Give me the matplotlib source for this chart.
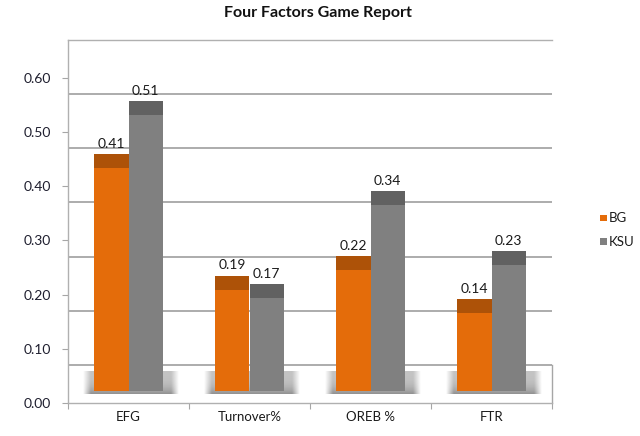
import matplotlib
matplotlib.use("Agg")
import matplotlib.pyplot as plt
import numpy as np
from matplotlib.patches import Rectangle

categories = ["EFG", "Turnover%", "OREB %", "FTR"]
teams = ["BG", "KSU"]
bg_values = [0.411, 0.187, 0.223, 0.144]
ksu_values = [0.509, 0.172, 0.343, 0.233]
ytick_vals = [0.0, 0.1, 0.2, 0.3, 0.4, 0.5, 0.6]

front_colors = {"BG": "#E46C0A", "KSU": "#808080"}
cap_colors = {"BG": "#AD5208", "KSU": "#616161"}

plt.rcParams['font.family'] = ['Lato', 'DejaVu Sans']

W, H = 640, 436
fig = plt.figure(figsize=(W / 100, H / 100), dpi=100)
L, R, T, B = 68, 552, 40, 403
ax = fig.add_axes([L / W, (H - B) / H, (R - L) / W, (B - T) / H])
px = 0.1 / 54.2  # data units per pixel vertically
ax.set_xlim(0, len(categories))
ax.set_ylim(0, (B - T) * px)

base = 12 * px      # front bottom of the bars
cap = 14 * px       # 3D top face depth
wall = 38 * px      # offset of back wall gridlines
bw = 0.285

# back wall gridlines
for v in ytick_vals[:-1]:
    ax.axhline(v + wall, color="#a6a6a6", lw=1.3, zorder=1)
# floor right edge
ax.plot([len(categories)] * 2, [0, wall], color="#a6a6a6", lw=1.0, zorder=1, clip_on=False)

# shadows on the floor
nx, ny = 240, 30
xs = np.linspace(-1, 1, nx)
prof_x = np.clip((1 - np.abs(xs)) / 0.16, 0, 1)
ys = np.linspace(0, 1, ny)  # top -> bottom
prof_y = 0.55 + 0.45 * ys ** 3
img = np.zeros((ny, nx, 4))
img[..., :3] = 0.5
img[..., 3] = np.outer(prof_y, prof_x) * 0.85
for i in range(len(categories)):
    c = i + 0.5
    ax.imshow(img, extent=[c - 0.38, c + 0.41, 9 * px, 31 * px],
              aspect='auto', zorder=2, interpolation='bilinear')

for i, cat in enumerate(categories):
    c = i + 0.5
    for team, vals, off in (("BG", bg_values, -bw / 2), ("KSU", ksu_values, bw / 2)):
        v = vals[i]
        x0 = c + off - bw / 2
        ax.add_patch(Rectangle((x0, base), bw, v, facecolor=front_colors[team],
                               edgecolor="none", zorder=3))
        ax.add_patch(Rectangle((x0, base + v), bw, cap, facecolor=cap_colors[team],
                               edgecolor="none", zorder=3))
        ax.annotate(f"{v:.2f}", (c + off, base + v + cap), xytext=(0, 3),
                    textcoords="offset points", ha="center", va="bottom",
                    fontsize=10, color="#1a1a1a", zorder=4)

ax.set_yticks(ytick_vals)
ax.set_yticklabels([f"{v:.2f}" for v in ytick_vals], fontsize=10, color="#1f1f2f")
ax.set_xticks(range(len(categories) + 1))
ax.set_xticklabels([])
ax.set_xticks([i + 0.5 for i in range(len(categories))], minor=True)
ax.set_xticklabels(categories, minor=True, fontsize=9.5, color="#1a1a1a")
ax.tick_params(axis='x', which='minor', length=0, pad=6)
ax.tick_params(axis='x', which='major', length=4, color="#a6a6a6")
ax.tick_params(axis='y', length=4, color="#a6a6a6", pad=8)

for s in ("right",):
    ax.spines[s].set_visible(False)
for s in ("left", "bottom", "top"):
    ax.spines[s].set_color("#b0b0b0")
    ax.spines[s].set_linewidth(1.0)

fig.text(318 / W, 1 - 13 / H, "Four Factors Game Report", ha="center", va="center",
         fontsize=11.5, fontweight="bold", color="#111111")

# legend
for k, team in enumerate(teams):
    yc = 218 + 24 * k
    fig.patches.append(Rectangle(((600) / W, 1 - (yc + 3.5) / H), 7 / W, 7 / H,
                                 transform=fig.transFigure, facecolor=front_colors[team],
                                 edgecolor="none"))
    fig.text(609 / W, 1 - yc / H, team, ha="left", va="center", fontsize=9.5, color="#1a1a1a")

fig.savefig("out.png", dpi=100)
